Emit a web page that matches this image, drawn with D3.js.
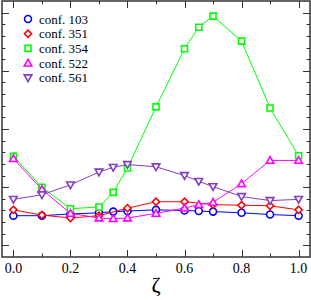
<!DOCTYPE html>
<html>
<head>
<meta charset="utf-8">
<script src="https://cdn.jsdelivr.net/npm/d3@7"></script>
<style>
  html, body { margin: 0; padding: 0; background: #fff; }
  svg { display: block; }
  svg text { font-family: 'Liberation Serif', 'Times New Roman', Times, 'DejaVu Serif', serif; }
</style>
</head>
<body>
<div id="chart"></div>
<script>
// zeta values used by the configurations
const zetaFull = [0, 0.1, 0.2, 0.3, 0.35, 0.4, 0.5, 0.6, 0.65, 0.7, 0.8, 0.9, 1.0];
const zeta351 = [0, 0.1, 0.2, 0.3, 0.4, 0.5, 0.6, 0.7, 0.8, 0.9, 1.0];

const conf103 = [0.51, 0.51, 0.54, 0.56, 0.58, 0.59, 0.61, 0.60, 0.59, 0.58, 0.56, 0.53, 0.51];
const conf351 = [0.61, 0.52, 0.47, 0.51, 0.64, 0.75, 0.75, 0.70, 0.69, 0.68, 0.61];
const conf354 = [1.53, 1.00, 0.63, 0.66, 0.91, 1.33, 2.38, 3.38, 3.75, 3.94, 3.51, 2.36, 1.54];
const conf522 = [1.49, 0.96, 0.55, 0.47, 0.46, 0.47, 0.55, 0.64, 0.70, 0.74, 1.06, 1.46, 1.46];
const conf561 = [0.79, 0.87, 1.04, 1.26, 1.34, 1.39, 1.35, 1.20, 1.10, 1.01, 0.84, 0.77, 0.79];

const seriesNames = ['conf. 103', 'conf. 351', 'conf. 354', 'conf. 522', 'conf. 561'];
const xTicks = [0.0, 0.2, 0.4, 0.6, 0.8, 1.0];

const width = 311, height = 300;
const box = { left: 2, right: 310, top: 1, bottom: 257 };

const series = [
  { name: seriesNames[0], xs: zetaFull, ys: conf103, color: '#0000ff', shape: 'circle' },
  { name: seriesNames[1], xs: zeta351, ys: conf351, color: '#ff0000', shape: 'diamond' },
  { name: seriesNames[2], xs: zetaFull, ys: conf354, color: '#00ff00', shape: 'square' },
  { name: seriesNames[3], xs: zetaFull, ys: conf522, color: '#ff00ff', shape: 'up' },
  { name: seriesNames[4], xs: zetaFull, ys: conf561, color: '#7f3fbf', shape: 'down' },
];

const x = d3.scaleLinear().domain([-0.04, 1.04]).range([box.left, box.right]);
const y = d3.scaleLinear().domain([-0.2, 4.2]).range([box.bottom, box.top]);

const svg = d3.select('#chart').append('svg')
  .attr('width', width)
  .attr('height', height);

// ticks, inward on all four sides
const axisColor = '#333';
const tickGroup = svg.append('g').attr('stroke', axisColor).attr('stroke-width', 1);

const xMinor = d3.range(0, 1.0001, 0.1);
xMinor.forEach(v => {
  const major = Math.abs(Math.round(v * 10) % 2) === 0;
  const len = major ? 7 : 3.5;
  const px = Math.round(x(v)) + 0.5;
  tickGroup.append('line').attr('x1', px).attr('x2', px).attr('y1', box.bottom).attr('y2', box.bottom - len);
  tickGroup.append('line').attr('x1', px).attr('x2', px).attr('y1', box.top).attr('y2', box.top + len);
});

const yMinor = d3.range(0, 4.0001, 0.2);
yMinor.forEach(v => {
  const major = Math.abs(v - Math.round(v)) < 1e-6;
  const len = major ? 7 : 3.5;
  const py = Math.round(y(v)) + 0.5;
  tickGroup.append('line').attr('y1', py).attr('y2', py).attr('x1', box.left).attr('x2', box.left + len);
  tickGroup.append('line').attr('y1', py).attr('y2', py).attr('x1', box.right).attr('x2', box.right - len);
});

// frame
svg.append('rect')
  .attr('x', box.left).attr('y', box.top)
  .attr('width', box.right - box.left).attr('height', box.bottom - box.top)
  .attr('fill', 'none').attr('stroke', axisColor).attr('stroke-width', 1.5);

// x tick labels
svg.append('g').selectAll('text')
  .data(xTicks)
  .join('text')
  .attr('x', d => x(d))
  .attr('y', 273)
  .attr('text-anchor', 'middle')
  .attr('font-size', 14)
  .attr('fill', '#000')
  .text(d => d.toFixed(1));

svg.append('text')
  .attr('x', (box.left + box.right) / 2)
  .attr('y', 292)
  .attr('text-anchor', 'middle')
  .attr('font-size', 22)
  .attr('fill', '#000')
  .text('ζ');

function markerPath(shape) {
  switch (shape) {
    case 'circle': return d3.symbol(d3.symbolCircle, 38)();
    case 'square': return 'M-3,-3H3V3H-3Z';
    case 'diamond': return 'M0,-3.6L3.6,0L0,3.6L-3.6,0Z';
    case 'up': return 'M0,-3.8L3.8,2.9L-3.8,2.9Z';
    case 'down': return 'M0,3.8L3.8,-2.9L-3.8,-2.9Z';
  }
}

const line = d3.line().x(d => x(d[0])).y(d => y(d[1]));

series.forEach(s => {
  const pts = s.xs.map((v, i) => [v, s.ys[i]]);
  const g = svg.append('g');
  g.append('path')
    .datum(pts)
    .attr('d', line)
    .attr('fill', 'none')
    .attr('stroke', s.color)
    .attr('stroke-width', 1);
  g.selectAll('path.mk')
    .data(pts)
    .join('path')
    .attr('class', 'mk')
    .attr('transform', d => `translate(${x(d[0])},${y(d[1])})`)
    .attr('d', markerPath(s.shape))
    .attr('fill', '#fff')
    .attr('stroke', s.color)
    .attr('stroke-width', 1.6);
});

// legend
const legend = svg.append('g');
series.forEach((s, i) => {
  const ly = 19 + i * 14.7;
  legend.append('path')
    .attr('transform', `translate(28,${ly})`)
    .attr('d', markerPath(s.shape))
    .attr('fill', '#fff')
    .attr('stroke', s.color)
    .attr('stroke-width', 1.6);
  legend.append('text')
    .attr('x', 39)
    .attr('y', ly + 4.5)
    .attr('font-size', 13)
    .attr('fill', '#000')
    .text(s.name);
});
</script>
</body>
</html>
